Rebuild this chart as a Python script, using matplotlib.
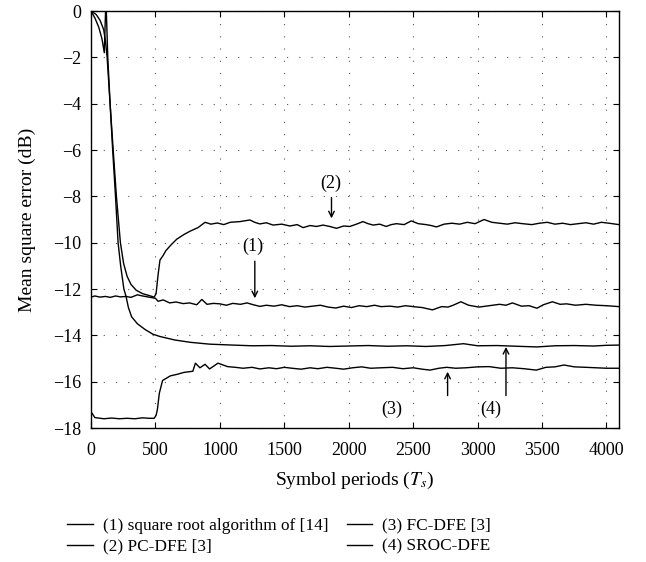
import matplotlib
matplotlib.use("Agg")
import matplotlib.pyplot as plt
from matplotlib.lines import Line2D

plt.rcParams['font.family'] = ['Liberation Serif', 'DejaVu Serif']
plt.rcParams['mathtext.fontset'] = 'stix'

# (1) square root algorithm of [14]
x1 = [0, 30, 70, 110, 150, 190, 230, 270, 310, 360, 400, 440, 480, 500, 520, 560, 610, 660, 715, 765,
      820, 860, 900, 950, 1000, 1050, 1100, 1160, 1210, 1260, 1310, 1360, 1420, 1480, 1540, 1600, 1660, 1720, 1780, 1840,
      1900, 1960, 2020, 2080, 2140, 2200, 2250, 2320, 2380, 2440, 2500, 2570, 2650, 2720, 2770, 2810, 2870, 2930, 3010, 3090,
      3170, 3220, 3270, 3340, 3400, 3460, 3510, 3580, 3640, 3690, 3760, 3840, 3920, 4000, 4096]
y1 = [-12.35, -12.3, -12.35, -12.32, -12.36, -12.3, -12.34, -12.32, -12.36, -12.25, -12.3, -12.34, -12.38, -12.4, -12.53, -12.47, -12.6, -12.56, -12.63, -12.6,
      -12.68, -12.45, -12.66, -12.62, -12.64, -12.7, -12.62, -12.66, -12.6, -12.68, -12.75, -12.7, -12.74, -12.68, -12.76, -12.72, -12.78, -12.74, -12.7, -12.78,
      -12.82, -12.74, -12.8, -12.72, -12.76, -12.7, -12.76, -12.74, -12.78, -12.72, -12.76, -12.8, -12.9, -12.76, -12.78, -12.7, -12.55, -12.7, -12.78, -12.72,
      -12.66, -12.7, -12.6, -12.74, -12.72, -12.83, -12.68, -12.55, -12.66, -12.64, -12.7, -12.66, -12.7, -12.72, -12.76]

# (2) PC-DFE [3]
x2 = [0, 40, 70, 98, 112, 125, 148, 172, 197, 228, 253, 280, 310, 350, 400, 450, 490, 505, 520, 535, 560,
      580, 620, 665, 720, 770, 830, 885, 930, 980, 1030, 1080, 1155, 1233, 1270, 1310, 1360, 1413, 1480, 1543, 1600,
      1646, 1700, 1750, 1800, 1853, 1905, 1960, 2008, 2060, 2110, 2150, 2190, 2240, 2290, 2330, 2370, 2430, 2485, 2540, 2600,
      2640, 2680, 2740, 2800, 2860, 2920, 2980, 3050, 3110, 3170, 3230, 3290, 3350, 3420, 3480, 3540, 3600, 3660, 3720, 3780,
      3840, 3900, 3960, 4020, 4096]
y2 = [0, -0.15, -0.4, -0.8, -1.3, -2.0, -4.0, -6.0, -8.0, -10.0, -10.9, -11.45, -11.8, -12.05, -12.2, -12.28, -12.35, -12.2, -11.4, -10.75, -10.55,
      -10.35, -10.1, -9.85, -9.65, -9.5, -9.35, -9.12, -9.2, -9.15, -9.22, -9.12, -9.09, -9.02, -9.12, -9.19, -9.14, -9.24, -9.2, -9.28, -9.22,
      -9.35, -9.26, -9.3, -9.24, -9.3, -9.38, -9.28, -9.3, -9.2, -9.09, -9.18, -9.24, -9.2, -9.3, -9.22, -9.18, -9.22, -9.06, -9.18, -9.22,
      -9.26, -9.32, -9.2, -9.16, -9.2, -9.12, -9.18, -9.0, -9.12, -9.16, -9.2, -9.14, -9.18, -9.22, -9.16, -9.12, -9.2, -9.16, -9.22, -9.18,
      -9.14, -9.2, -9.12, -9.16, -9.22]

# (3) FC-DFE [3]
x3 = [0, 30, 100, 160, 220, 280, 340, 400, 450, 490, 505, 515, 530, 555, 615, 670, 720, 790, 810, 845,
      885, 920, 985, 1060, 1120, 1180, 1250, 1310, 1380, 1440, 1500, 1560, 1630, 1700, 1760, 1830, 1900, 1960, 2030, 2100,
      2170, 2250, 2340, 2420, 2500, 2570, 2630, 2700, 2760, 2830, 2910, 3000, 3090, 3180, 3270, 3360, 3455, 3530, 3600, 3670,
      3750, 3840, 3920, 4000, 4096]
y3 = [-17.3, -17.55, -17.6, -17.57, -17.6, -17.58, -17.6, -17.56, -17.58, -17.58, -17.45, -17.2, -16.5, -15.95, -15.75, -15.68, -15.6, -15.55, -15.2, -15.4,
      -15.25, -15.45, -15.2, -15.35, -15.38, -15.42, -15.38, -15.45, -15.4, -15.44, -15.38, -15.42, -15.46, -15.4, -15.44, -15.38, -15.42, -15.46, -15.4, -15.36,
      -15.42, -15.4, -15.38, -15.44, -15.4, -15.46, -15.5, -15.42, -15.38, -15.42, -15.4, -15.36, -15.35, -15.42, -15.4, -15.44, -15.5, -15.38, -15.36, -15.28,
      -15.36, -15.38, -15.4, -15.42, -15.42]

# (4) SROC-DFE
x4 = [0, 30, 60, 85, 103, 110, 116, 130, 148, 168, 190, 210, 230, 255, 271, 290, 315, 360, 420, 480,
      535, 650, 770, 920, 1100, 1250, 1400, 1550, 1700, 1850, 2000, 2150, 2300, 2450, 2600, 2750, 2890, 3000, 3150, 3300,
      3460, 3600, 3750, 3900, 4000, 4096]
y4 = [0, -0.3, -0.7, -1.2, -1.8, -0.5, 0.5, -2.0, -4.0, -6.0, -8.0, -10.0, -11.0, -12.0, -12.3, -12.8, -13.2, -13.5, -13.75, -13.95,
      -14.05, -14.2, -14.3, -14.38, -14.42, -14.45, -14.44, -14.47, -14.45, -14.48, -14.46, -14.44, -14.47, -14.45, -14.48, -14.44, -14.36, -14.45, -14.44, -14.47,
      -14.5, -14.45, -14.44, -14.46, -14.43, -14.42]

labels = ['(1) square root algorithm of [14]', '(2) PC-DFE [3]', '(3) FC-DFE [3]', '(4) SROC-DFE']

fig = plt.figure(figsize=(6.46, 5.62), dpi=100)
ax = fig.add_axes([0.1409, 0.2384, 0.8171, 0.742])

for xs, ys in [(x1, y1), (x2, y2), (x3, y3), (x4, y4)]:
    ax.plot(xs, ys, color='black', lw=1.0)

ax.set_xlim(0, 4096)
ax.set_ylim(-18, 0)
ax.set_xticks(range(0, 4001, 500))
ax.set_yticks(range(-18, 1, 2))
ax.grid(True, color='#555555', lw=0.8, linestyle=(0, (1, 10)))
ax.tick_params(direction='in', top=True, right=True, length=4, labelsize=13)
ax.tick_params(axis='x', pad=10)
ax.tick_params(axis='y', pad=7)
for s in ax.spines.values():
    s.set_linewidth(1.0)

ax.set_xlabel('Symbol periods ($T_s$)', fontsize=14, labelpad=8)
ax.set_ylabel('Mean square error (dB)', fontsize=14, labelpad=12)

# curve labels with arrows
arr = dict(arrowstyle='->', lw=1.0, color='black', shrinkA=0, shrinkB=0)
ax.annotate('', xy=(1271, -12.4), xytext=(1271, -10.8), arrowprops=arr)
ax.text(1256, -10.15, '(1)', fontsize=13, ha='center', va='center')
ax.annotate('', xy=(1866, -8.95), xytext=(1866, -8.05), arrowprops=arr)
ax.text(1858, -7.42, '(2)', fontsize=13, ha='center', va='center')
ax.annotate('', xy=(2767, -15.57), xytext=(2767, -16.6), arrowprops=arr)
ax.text(2330, -17.2, '(3)', fontsize=13, ha='center', va='center')
ax.annotate('', xy=(3220, -14.5), xytext=(3220, -16.6), arrowprops=arr)
ax.text(3100, -17.2, '(4)', fontsize=13, ha='center', va='center')

handles = [Line2D([], [], color='black', lw=1.0) for _ in labels]
fig.legend(handles, labels, ncol=2, loc='center', bbox_to_anchor=(0.432, 0.046),
           frameon=False, fontsize=12.4, handlelength=1.5, handletextpad=0.55,
           columnspacing=1.07, labelspacing=0.3)

fig.savefig('out.png', dpi=100)
